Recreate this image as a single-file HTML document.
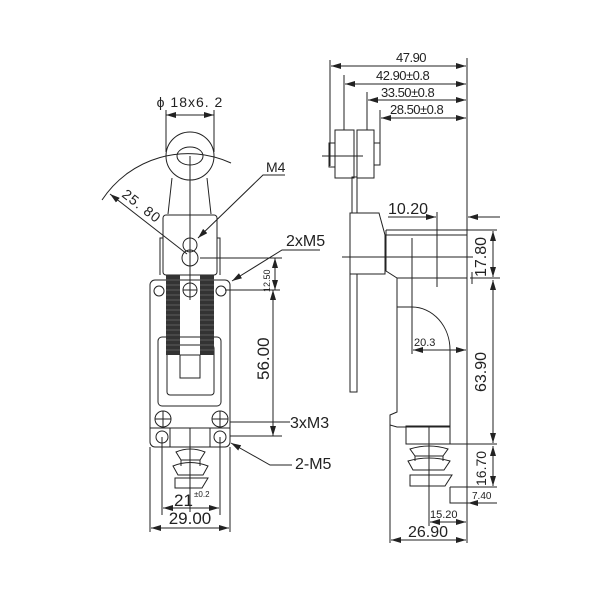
<!DOCTYPE html>
<html><head><meta charset="utf-8"><style>
html,body{margin:0;padding:0;background:#fff}
svg{display:block}
text{font-family:"Liberation Sans",sans-serif;fill:#222}
</style></head><body>
<svg width="600" height="600" viewBox="0 0 600 600" xmlns="http://www.w3.org/2000/svg">
<defs>
<marker id="a" viewBox="0 0 10 6" refX="10" refY="3" markerWidth="10" markerHeight="6" orient="auto-start-reverse" markerUnits="userSpaceOnUse"><path d="M0,0L10,3L0,6z" fill="#222"/></marker>
</defs>
<g stroke="#222" stroke-width="1" fill="none">
<line x1="166" y1="110" x2="166" y2="152"/><line x1="214" y1="110" x2="214" y2="152"/>
<line x1="166" y1="115" x2="214" y2="115" marker-start="url(#a)" marker-end="url(#a)"/>
<circle cx="190" cy="156" r="24"/>
<ellipse cx="190" cy="156" rx="13" ry="9"/>
<path d="M102,200 A103,103 0 0 1 231,163"/>
<path d="M172,178 L168,214 M207,178 L211,214"/>
<line x1="190" y1="156" x2="190" y2="300"/>
<rect x="163" y="215" width="54" height="60" rx="3"/>
<path d="M163,238 H160 V275 M217,238 H220 V275"/>
<circle cx="190" cy="245" r="7"/><circle cx="190" cy="258" r="8"/>
<path d="M285,175 H263 L198,238" marker-end="url(#a)"/>
<line x1="187" y1="254" x2="110" y2="194" marker-end="url(#a)"/>
<line x1="200" y1="258" x2="282" y2="258"/>
<path d="M320,250 H282 L232,281" marker-end="url(#a)"/>
<line x1="275" y1="258" x2="275" y2="290" marker-start="url(#a)" marker-end="url(#a)"/>
<rect x="150" y="280" width="80" height="167" rx="5"/>
<line x1="150" y1="428" x2="230" y2="428"/>
<circle cx="159" cy="291" r="5"/><circle cx="221" cy="291" r="5"/>
<rect x="158" y="337" width="63" height="69" rx="4"/>
<rect x="167" y="345" width="47" height="50" rx="3"/>
</g>
<g fill="#333">
<rect x="166" y="275" width="14" height="80"/><rect x="200" y="275" width="14" height="80"/>
</g>
<g stroke="#888" stroke-width="0.6">
<path d="M166,280H180M166,285H180M166,290H180M166,295H180M166,300H180M166,305H180M166,310H180M166,315H180M166,320H180M166,325H180M166,330H180M166,335H180M166,340H180M166,345H180M166,350H180"/>
<path d="M200,280H214M200,285H214M200,290H214M200,295H214M200,300H214M200,305H214M200,310H214M200,315H214M200,320H214M200,325H214M200,330H214M200,335H214M200,340H214M200,345H214M200,350H214"/>
</g>
<g stroke="#222" stroke-width="1" fill="none">
<rect x="180" y="355" width="20" height="23" fill="#fff"/>
<circle cx="190" cy="290" r="7" fill="#fff"/><path d="M183,290H197M190,283V297"/>
<circle cx="163" cy="419" r="8"/><path d="M155,419H171M163,411V427"/>
<circle cx="220" cy="419" r="8"/><path d="M212,419H228M220,411V427"/>
<circle cx="162" cy="437" r="6"/><circle cx="220" cy="437" r="6"/>
<path d="M170,428V447M210,428V447"/>
<line x1="190" y1="428" x2="190" y2="512"/>
<path d="M176,452 Q190,446 205,452 L200,460 H181 Z"/>
<path d="M173,466 Q190,459 208,466 L203,475 H178 Z"/>
<path d="M181,460 V466 M200,460 V466"/>
<path d="M175,478 H208 L202,488 H175 Z"/>
<line x1="230" y1="422" x2="290" y2="422"/>
<line x1="225" y1="290" x2="280" y2="290"/>
<line x1="230" y1="436" x2="282" y2="436"/>
<line x1="273" y1="290" x2="273" y2="436" marker-start="url(#a)" marker-end="url(#a)"/>
<path d="M292,465 H270 L231,443" marker-end="url(#a)"/>
<path d="M162,437V515M220,437V515M150,447V532M230,447V532"/>
<line x1="163" y1="508" x2="219" y2="508" marker-start="url(#a)" marker-end="url(#a)"/>
<line x1="151" y1="528" x2="229" y2="528" marker-start="url(#a)" marker-end="url(#a)"/>

<line x1="467" y1="58" x2="467" y2="543"/>
<line x1="330" y1="60" x2="330" y2="166"/>
<line x1="344" y1="75" x2="344" y2="130"/>
<line x1="367" y1="92" x2="367" y2="130"/>
<line x1="380" y1="110" x2="380" y2="143"/>
<line x1="331" y1="66" x2="466" y2="66" marker-start="url(#a)" marker-end="url(#a)"/>
<line x1="345" y1="84" x2="466" y2="84" marker-start="url(#a)" marker-end="url(#a)"/>
<line x1="368" y1="100" x2="466" y2="100" marker-start="url(#a)" marker-end="url(#a)"/>
<line x1="381" y1="118" x2="466" y2="118" marker-start="url(#a)" marker-end="url(#a)"/>
<rect x="335" y="130" width="19" height="48"/>
<rect x="357" y="130" width="17" height="48"/>
<rect x="329" y="143" width="6" height="24"/>
<rect x="374" y="143" width="6" height="22"/>
<line x1="322" y1="156" x2="363" y2="156"/>
<rect x="352" y="177" width="5" height="36"/>
<path d="M350,213 H379 L385,235 V274 H350 Z"/>
<rect x="350" y="274" width="7" height="118"/>
<path d="M386,230 H467 M386,235 H467 M386,230 V271 L397,278 H467"/>
<line x1="342" y1="257" x2="473" y2="257"/>
<line x1="412" y1="238" x2="412" y2="354"/>
<line x1="437" y1="212" x2="437" y2="287"/>
<path d="M397,278 V412 L390,415 V425 L397,427 H450"/>
<path d="M397,307 H412 A38,43 0 0 1 450,350 V443"/>
<line x1="413" y1="350" x2="466" y2="350" marker-start="url(#a)" marker-end="url(#a)"/>
<line x1="390" y1="425" x2="390" y2="543"/>
<rect x="406" y="426" width="44" height="18"/>
<line x1="429" y1="426" x2="429" y2="526"/>
<path d="M410,449 Q429,443 448,449 L443,456 H415 Z"/>
<path d="M408,461 Q429,455 450,461 L444,470 H413 Z"/>
<path d="M415,456 V461 M443,456 V461"/>
<path d="M410,475 H452 L445,486 H410 Z"/>
<path d="M450,444 H497 M450,487 H497 M450,487 V503 H497"/>
<path d="M467,230 H497 M470,278 H500 M472,272 V284"/>
<line x1="493" y1="231" x2="493" y2="277" marker-start="url(#a)" marker-end="url(#a)"/>
<line x1="493" y1="280" x2="493" y2="443" marker-start="url(#a)" marker-end="url(#a)"/>
<line x1="493" y1="446" x2="493" y2="486" marker-start="url(#a)" marker-end="url(#a)"/>
<line x1="497" y1="503" x2="468" y2="503" marker-end="url(#a)"/>
<line x1="500" y1="217" x2="468" y2="217" marker-end="url(#a)"/>
<line x1="388" y1="217" x2="436" y2="217" marker-end="url(#a)"/>
<line x1="430" y1="522" x2="466" y2="522" marker-start="url(#a)" marker-end="url(#a)"/>
<line x1="391" y1="540" x2="466" y2="540" marker-start="url(#a)" marker-end="url(#a)"/>
</g>
<g>
<text x="190" y="107" font-size="14" text-anchor="middle" letter-spacing="1">ϕ 18x6. 2</text>
<text x="266" y="172" font-size="14">M4</text>
<text x="286" y="246" font-size="16">2xM5</text>
<text x="290" y="428" font-size="16">3xM3</text>
<text x="295" y="469" font-size="16">2-M5</text>
<text transform="translate(121,196) rotate(38)" font-size="14" letter-spacing="1">25. 80</text>
<text transform="translate(270,292) rotate(-90)" font-size="9">12.50</text>
<text transform="translate(269,380) rotate(-90)" font-size="17">56.00</text>
<text x="174" y="506" font-size="17">21</text>
<text x="194" y="497" font-size="8">±0.2</text>
<text x="190" y="524" font-size="17" text-anchor="middle">29.00</text>
<text x="396" y="62" font-size="13" letter-spacing="-0.5">47.90</text>
<text x="376" y="80" font-size="13" letter-spacing="-0.5">42.90±0.8</text>
<text x="381" y="97" font-size="13" letter-spacing="-0.5">33.50±0.8</text>
<text x="390" y="114" font-size="13" letter-spacing="-0.5">28.50±0.8</text>
<text x="388" y="214" font-size="16">10.20</text>
<text transform="translate(486,277) rotate(-90)" font-size="16">17.80</text>
<text transform="translate(486,392) rotate(-90)" font-size="16">63.90</text>
<text transform="translate(486,486) rotate(-90)" font-size="14">16.70</text>
<text x="414" y="346" font-size="11">20.3</text>
<text x="472" y="499" font-size="10">7.40</text>
<text x="430" y="518" font-size="11">15.20</text>
<text x="428" y="537" font-size="16" text-anchor="middle">26.90</text>
</g>
</svg>
</body></html>
